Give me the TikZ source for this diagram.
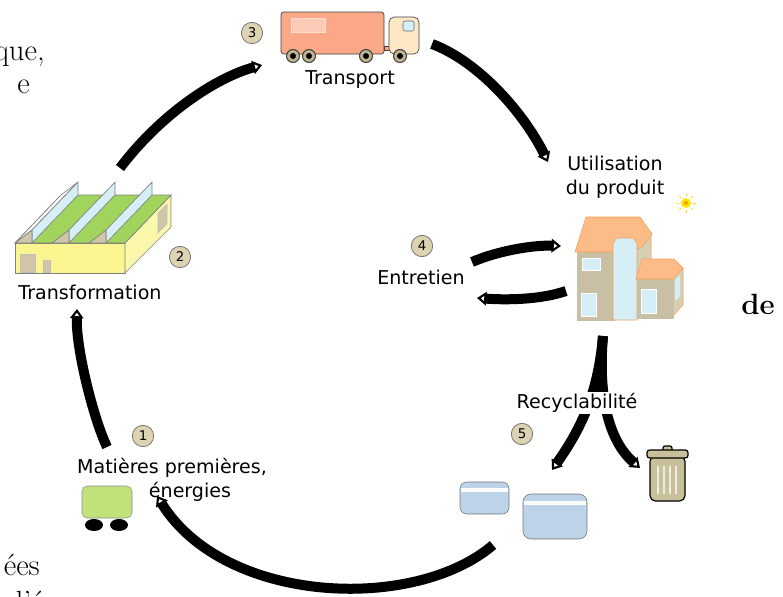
\documentclass[tikz,border=0pt]{standalone}
\usepackage{fontspec}
\newfontfamily\labelfont{DejaVu Sans}
\usetikzlibrary{arrows.meta}

\definecolor{numfill}{RGB}{221,211,179}
\definecolor{truckbox}{RGB}{250,168,136}
\definecolor{cab}{RGB}{253,231,196}
\definecolor{wheel}{RGB}{190,180,145}
\definecolor{glass}{RGB}{214,238,245}
\definecolor{facyellow}{RGB}{251,245,143}
\definecolor{roofgreen}{RGB}{160,212,92}
\definecolor{gable}{RGB}{207,197,168}
\definecolor{wall}{RGB}{201,191,164}
\definecolor{sidewall}{RGB}{215,207,180}
\definecolor{roof}{RGB}{253,187,135}
\definecolor{roofedge}{RGB}{240,160,90}
\definecolor{boxblue}{RGB}{188,211,232}
\definecolor{bin}{RGB}{200,192,155}
\definecolor{cart}{RGB}{193,226,123}

\tikzset{
  flow/.style={line width=7.5pt, -{Triangle[open,length=7pt,width=10pt,line width=1.6pt]}},
  num/.style={circle, draw=black!55, fill=numfill, line width=0.6pt, minimum size=16pt, inner sep=0pt, font=\labelfont\fontsize{10}{12}\selectfont},
  lbl/.style={font=\labelfont\fontsize{14.3}{18}\selectfont, align=center, inner sep=1pt},
  pagetxt/.style={font=\fontsize{23}{27}\selectfont, inner sep=0pt},
  part/.style={draw=black!50, line width=0.5pt},
}

\begin{document}
\begin{tikzpicture}[x=0.75pt,y=0.75pt,yscale=-1,xscale=1]
	\useasboundingbox (0,0) rectangle (783,597);

	% bits of the surrounding page
	\node[pagetxt, anchor=base east] (pque) at (45,60) {que,};
	\node[pagetxt, anchor=base east] (pe) at (30,93) {e};
	\node[pagetxt, anchor=base east, font=\bfseries\fontsize{22}{26}\selectfont] (pde) at (775,314) {de};
	\node[pagetxt, anchor=base east] (pees) at (40,575) {ées};
	\node[pagetxt, anchor=base east] (pnext) at (44,612) {i d'é};

	% truck
	\draw[part, draw=black!75, fill=truckbox, rounded corners=2pt] (281,12) rectangle (384,54);
	\draw[draw=truckbox!40, fill=truckbox!60!white] (291,18) rectangle (325,32);
	\draw[part, draw=black!75, fill=truckbox] (384,46) rectangle (390,50);
	\draw[part, draw=black!75, fill=cab, rounded corners=4pt] (389,17) rectangle (419,54);
	\draw[draw=black!60, fill=glass, rounded corners=1.5pt] (403,21) rectangle (414,31);
	\foreach \x in {293,309,366,400} {
		\draw[draw=black!75, fill=wheel, line width=0.8pt] (\x,56) circle (6.5);
		\fill (\x,56) circle (3);
	}

	% factory
	\draw[part, fill=facyellow] (15,243) rectangle (125,273);
	\draw[part, fill=facyellow!75] (125,243) -- (171,195) -- (171,227) -- (125,273) -- cycle;
	\draw[part, fill=roofgreen] (15,243) -- (61,195) -- (171,195) -- (125,243) -- cycle;
	\draw[part, fill=white] (15,243) -- (61,195) -- (78,182) -- (32,230) -- cycle;
	\foreach \d in {0,37,74} {
		\draw[part, fill=glass] (32+\d,243) -- (32+\d,230) -- (78+\d,182) -- (78+\d,195) -- cycle;
		\draw[part, fill=gable] (15+\d,243) -- (32+\d,243) -- (32+\d,230) -- cycle;
	}
	\draw[draw=black!25, fill=gable] (20,254) rectangle (35,272);
	\draw[draw=black!25, fill=gable] (43,260) rectangle (50,272);
	\draw[draw=black!25, fill=gable] (158,213) -- (167,204) -- (167,224) -- (158,233) -- cycle;

	% house
	\draw[draw=roofedge, fill=sidewall] (636,240) -- (651,232) -- (651,300) -- (636,318) -- cycle;
	\draw[draw=wall, fill=wall] (577,252) rectangle (614,320);
	\draw[draw=roofedge, fill=roof] (575,252) -- (586,217) -- (640,217) -- (652,234) -- (641,248) -- (614,252) -- cycle;
	\draw[draw=roofedge, fill=glass] (613,320) -- (613,243) -- (617,238) -- (633,238) -- (637,243) -- (637,320) -- cycle;
	\draw[draw=roofedge, fill=sidewall] (672,278) -- (683,268) -- (683,305) -- (672,317) -- cycle;
	\fill[glass] (675,280) -- (680,275) -- (680,296) -- (675,301) -- cycle;
	\draw[draw=wall, fill=wall] (637,277) rectangle (673,318);
	\draw[draw=roofedge, fill=roof] (636,279) -- (642,259) -- (674,259) -- (683,268) -- (673,279) -- cycle;
	\draw[draw=white, fill=glass] (641,289) rectangle (656,313);
	\draw[draw=white, fill=glass] (582,258) rectangle (600,270);
	\draw[draw=white, fill=glass] (581,293) rectangle (596,316);

	% sun
	\foreach \a in {0,45,...,315} {
		\draw[yellow!80!orange, line width=0.6pt] (686,203) ++(\a:7) -- ++(\a:2.5);
	}
	\fill[yellow!90!orange] (686,203) circle (5);
	\fill[orange!70!yellow] (686,203) circle (2.2);

	% containers and bin
	\draw[draw=black!55, fill=boxblue, rounded corners=5pt] (460,482) rectangle (509,514);
	\fill[white] (461,488) rectangle (508,492);
	\draw[draw=black!55, fill=boxblue, rounded corners=6pt] (523,494) rectangle (587,539);
	\fill[white] (524,501) rectangle (586,505);
	\draw[line width=0.9pt, fill=bin, rounded corners=1.5pt] (663,446) rectangle (672,452);
	\draw[line width=0.9pt, fill=bin, rounded corners=4pt] (650,456) rectangle (685,501);
	\draw[line width=0.9pt, fill=bin, rounded corners=2pt] (647,450) rectangle (688,458);
	\foreach \x in {658,664,670,676} {
		\draw[white!70!bin, line width=1.2pt] (\x,466) -- (\x,494);
	}

	% cart
	\draw[draw=black!45, fill=cart, rounded corners=4pt] (82,486) rectangle (132,518);
	\fill (94,525) ellipse [x radius=9, y radius=6];
	\fill (119,525) ellipse [x radius=9, y radius=6];

	% labels
	\node[lbl] (transport) at (350,80) {Transport};
	\node[lbl] (transfo) at (90,292) {Transformation};
	\node[lbl] (matieres) at (172,480) {Matières premières,\\\hspace*{27pt}énergies};
	\node[lbl] (util) at (615,177) {Utilisation\\du produit};
	\node[lbl] (entretien) at (421,277) {Entretien};

	\node[num] (n1) at (143,436) {1};
	\node[num] (n2) at (180,257) {2};
	\node[num] (n3) at (252,33) {3};
	\node[num] (n4) at (422,246) {4};
	\node[num] (n5) at (522,434) {5};

	% cycle arrows
	\coordinate (a1) at (107,447);
	\coordinate (a2) at (77,309);
	\coordinate (b1) at (120,168);
	\coordinate (b2) at (262,65);
	\coordinate (c1) at (432,44);
	\coordinate (c2) at (548,162);
	\coordinate (d1) at (472,262);
	\coordinate (d2) at (561,246);
	\coordinate (e1) at (566,291);
	\coordinate (e2) at (477,298);
	\coordinate (h) at (603,336);
	\coordinate (r1) at (552,470);
	\coordinate (r2) at (640,468);
	\coordinate (f1) at (493,545);
	\coordinate (f2) at (157,496);
	\draw[flow] (a1) .. controls (94,420) and (76,350) .. (a2);
	\draw[flow] (b1) .. controls (160,115) and (215,78) .. (b2);
	\draw[flow] (c1) .. controls (480,62) and (525,115) .. (c2);
	\draw[flow] (d1) .. controls (500,250) and (535,245) .. (d2);
	\draw[flow] (e1) .. controls (540,300) and (505,300) .. (e2);
	\draw[flow] (h) .. controls (598,395) and (580,430) .. (r1);
	\draw[flow] (h) .. controls (598,395) and (608,440) .. (r2);
	\draw[flow] (f1) .. controls (415,612) and (225,605) .. (f2);

	\node[lbl, fill=white] (recycl) at (577,403) {Recyclabilité};
\end{tikzpicture}
\end{document}
